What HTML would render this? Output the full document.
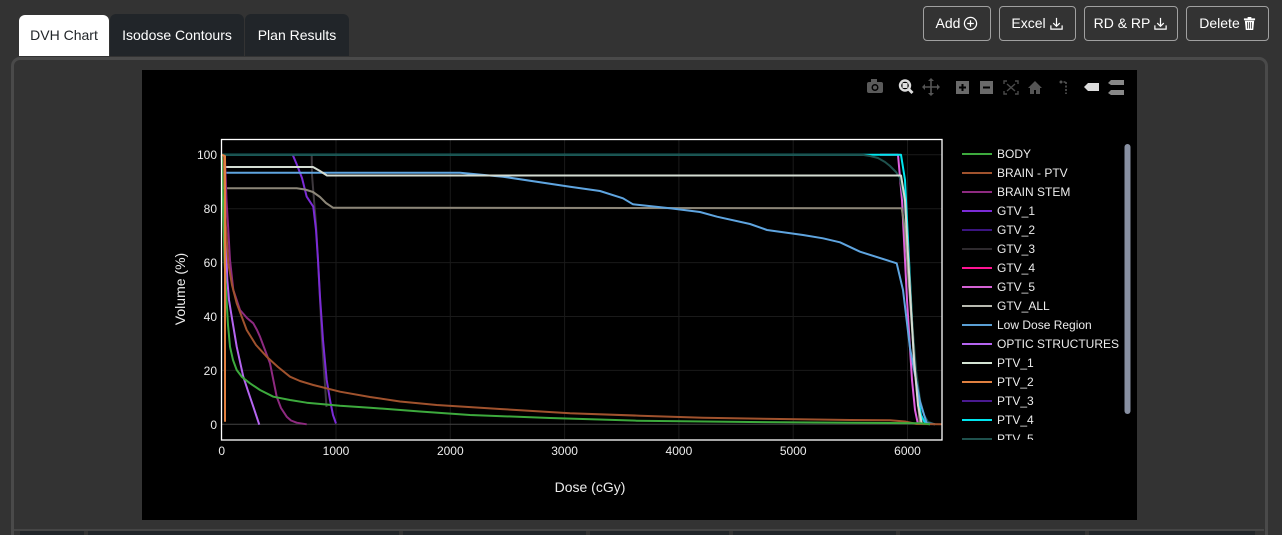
<!DOCTYPE html>
<html><head><meta charset="utf-8">
<style>
html,body{margin:0;padding:0;width:1282px;height:535px;overflow:hidden;background:#333333;font-family:"Liberation Sans",Arial,sans-serif;}
#wrap{position:relative;width:1282px;height:535px;overflow:hidden;background:#333333;}
.tab{position:absolute;height:42px;line-height:42px;font-size:14px;color:#fff;background:#212529;border-radius:6px 6px 0 0;text-align:center;}
.btn{position:absolute;top:6px;height:33px;border:1px solid #a0a0a0;border-radius:4px;color:#fff;font-size:14px;line-height:33px;text-align:center;}
.btn svg{vertical-align:-3px;margin-left:3px;}
</style></head><body>
<div id="wrap">
<div class="tab" style="left:19px;top:15px;width:90px;height:41px;line-height:41px;background:#fff;color:#212529;">DVH Chart</div>
<div class="tab" style="left:110px;top:14px;width:134px;">Isodose Contours</div>
<div class="tab" style="left:245px;top:14px;width:104px;">Plan Results</div>

<div class="btn" style="left:923px;width:66px;">Add<svg width="15" height="15" viewBox="0 0 16 16"><circle cx="8" cy="8" r="6.5" fill="none" stroke="#fff" stroke-width="1.3"/><path d="M8 4.5v7M4.5 8h7" stroke="#fff" stroke-width="1.3"/></svg></div>
<div class="btn" style="left:999px;width:75px;">Excel<svg width="15" height="15" viewBox="0 0 16 16"><path d="M8 2v9M4.5 7.5L8 11l3.5-3.5M2 10v4h12v-4" fill="none" stroke="#fff" stroke-width="1.3"/></svg></div>
<div class="btn" style="left:1084px;width:92px;">RD &amp; RP<svg width="15" height="15" viewBox="0 0 16 16"><path d="M8 2v9M4.5 7.5L8 11l3.5-3.5M2 10v4h12v-4" fill="none" stroke="#fff" stroke-width="1.3"/></svg></div>
<div class="btn" style="left:1186px;width:81px;">Delete<svg width="13" height="15" viewBox="0 0 14 16"><path d="M1 2.5h12v2H1zM5 1h4v1.5H5zM2 5h10l-1 10H3z" fill="#fff"/><path d="M5 6.5v7M7 6.5v7M9 6.5v7" stroke="#333" stroke-width="0.9"/></svg></div>

<div style="position:absolute;left:11px;top:57px;width:1251px;height:475px;border:3px solid #4a4a4a;border-bottom:0;border-radius:9px 9px 0 0;"></div>

<svg style="position:absolute;left:0;top:0" width="1282" height="535" xmlns="http://www.w3.org/2000/svg">
<!-- bottom tabs -->
<rect x="14" y="529" width="1250" height="2" fill="#454545"/>
<g fill="#212529">
<rect x="20" y="531" width="64" height="4"/><rect x="88" y="531" width="311" height="4"/><rect x="403" y="531" width="183" height="4"/><rect x="590" y="531" width="139" height="4"/><rect x="733" y="531" width="163" height="4"/><rect x="900" y="531" width="185" height="4"/><rect x="1089" y="531" width="166" height="4"/>
</g>

<rect x="142" y="70" width="995" height="450" fill="#000"/>

<!-- toolbar -->
<g>
<rect x="867" y="82" width="16" height="11" rx="2" fill="#5a5a5a"/><rect x="871" y="79" width="6" height="4" fill="#5a5a5a"/><circle cx="875" cy="87.5" r="3.5" fill="#000"/><circle cx="875" cy="87.5" r="2" fill="#5a5a5a"/>
<circle cx="905" cy="85.5" r="5" fill="none" stroke="#dcdcdc" stroke-width="2.4"/><rect x="902.5" y="83" width="5" height="5" fill="#dcdcdc"/><path d="M908.5 89l4 4" stroke="#dcdcdc" stroke-width="3"/>
<path d="M931 79v16M923 87h16" stroke="#555" stroke-width="1.6"/><path d="M931 78l-3 3h6zM931 96l-3-3h6zM922 87l3-3v6zM940 87l-3-3v6z" fill="#555"/>
<rect x="956" y="81" width="13" height="13" fill="#6a6a6a"/><path d="M962.5 84v7M959 87.5h7" stroke="#000" stroke-width="2"/>
<rect x="980" y="81" width="13" height="13" fill="#6a6a6a"/><path d="M983 87.5h7" stroke="#000" stroke-width="2"/>
<path d="M1004 84v-3h3M1015 81h3v3M1018 91v3h-3M1007 94h-3v-3M1007 84l8 7M1015 84l-8 7" stroke="#4a4a4a" stroke-width="1.4" fill="none"/>
<path d="M1028 88l7-7 7 7h-2v6h-4v-4h-2v4h-4v-6z" fill="#555"/>
<path d="M1060 82h6M1066 82v12" stroke="#555" stroke-width="1.6" stroke-dasharray="2 1.5"/><circle cx="1061" cy="82" r="1.5" fill="#555"/>
<path d="M1084 87l4-4h11v8h-11z" fill="#dcdcdc"/>
<path d="M1108 83l3-3h13v5h-13zM1108 93l3-3h13v5h-13z" fill="#888"/>
</g>

<!-- grid -->
<g stroke="#1a1a1a" stroke-width="1">
<path d="M336 140V439M450.3 140V439M564.6 140V439M678.9 140V439M793.2 140V439M907.5 140V439"/>
<path d="M222 370.4H942M222 316.5H942M222 262.6H942M222 208.7H942M222 154.8H942"/>
</g>
<path d="M222 424.3H942" stroke="#444" stroke-width="1"/>

<!-- series -->
<g fill="none" stroke-width="2" stroke-linejoin="round">
<polyline stroke="#3d383d" points="311.7,154.8 312,175 314,200 316,224 318,260 320,300 322,340 324,370 326.5,407"/>
<polyline stroke="#7b2bd6" points="292.7,154.8 297,165 302,178 306.7,196.7 313.3,206.7 316,230 318,260 320,296.7 323,340 326.7,380 330,400 333,415 336,423.5"/>
<polyline stroke="#e060e0" points="880,154.8 898,154.8 902,200 907,300 912,380 915,410 918,424.3"/>
<polyline stroke="#00e5ee" points="221.7,154.8 901,154.8 905,180 909,260 913,340 917,390 921,415 925,423 930,424.3"/>
<polyline stroke="#1f514d" points="221.7,154.8 862,154.8 870,156 878,158 885,162 890,166 896,172 900,178 904,200 908,250 912,320 916,370 920,400 924,415 928,422 935,424.3"/>
<polyline stroke="#8c8678" points="222,154.8 224,188.3 296.7,188.3 305,189.5 313,192 320,197 326,203 333,207.7 901.7,208.3 905,230 910,300 915,370 920,424.3"/>
<polyline stroke="#5fa5e0" points="222,154.8 225,172.7 460,172.7 503,176.7 570,186.7 600,191 623,198.3 633,204.3 670,208.3 700,212 717,216.7 750,224 767,230 803,235 823,238.3 840,242.3 860,251.7 896.7,263.3 903,290 910,348 920,401.7 926.7,423.3 935,424.3"/>
<polyline stroke="#d4dcd2" points="222,154.8 224,167 313,167 320,171 327,175.5 901,175.5 905,200 910,290 914,360 918,405 922,424.3"/>
<polyline stroke="#8e2a80" points="221.7,154.8 225,160 226.5,200 228.3,230 230,260 233.3,290 240,310 247,318 253.3,323.3 257,330 260,336.7 265,350 270,363.3 276.7,396.7 281,408 286.7,416.7 291,420.5 296.7,422.7 306.7,424.3"/>
<polyline stroke="#b565f0" points="221.7,154.8 224.5,160 225.5,230 227.3,280 229,300 231.7,316.7 236.7,346.7 243.3,376.7 248,391 253.3,406.7 259.3,424.7"/>
<polyline stroke="#a0522d" points="221.7,154.8 224,160 225.5,220 228.3,263.3 232,285 236.7,303.3 246.7,330 256,345 266.7,356.7 278,367 290,376.7 300,381 313.3,385 340,391.7 370,397 400,401.5 436.7,405 500,409 570,413.3 640,415.7 703,417.7 780,419 850,420 890,420.3 905,421.5 916.7,424 942,424.3"/>
<polyline stroke="#3daa3d" points="221.7,154.8 223,200 224.5,260 226,290 228,325 230,346.7 233,360 236.7,370 242,377 250,383.3 260,390 273.3,396.7 290,400 306.7,402.7 340,405.7 370,407.7 420,411.5 470,415 550,418 636.7,420.7 750,422 850,422.7 920,423.3 930,424.3"/>
<polyline stroke="#e08040" points="222,154.8 225,156 225,421.7"/>
</g>

<rect x="221.5" y="139.5" width="720.5" height="300.5" fill="none" stroke="#fff" stroke-width="1.3"/>

<!-- tick labels -->
<g font-family="Liberation Sans, Arial, sans-serif" font-size="12" fill="#ececec">
<g text-anchor="end">
<text x="217" y="159">100</text><text x="217" y="213">80</text><text x="217" y="267">60</text><text x="217" y="321">40</text><text x="217" y="375">20</text><text x="217" y="429">0</text>
</g>
<g text-anchor="middle">
<text x="221.7" y="455">0</text><text x="336" y="455">1000</text><text x="450.3" y="455">2000</text><text x="564.6" y="455">3000</text><text x="678.9" y="455">4000</text><text x="793.2" y="455">5000</text><text x="907.5" y="455">6000</text>
</g>
</g>
<text x="590" y="492" text-anchor="middle" font-family="Liberation Sans, Arial, sans-serif" font-size="14" fill="#ececec">Dose (cGy)</text>
<text transform="translate(185,289) rotate(-90)" text-anchor="middle" font-family="Liberation Sans, Arial, sans-serif" font-size="14" fill="#ececec">Volume (%)</text>

<!-- legend -->
<defs><clipPath id="lc"><rect x="950" y="140" width="180" height="300"/></clipPath></defs>
<g clip-path="url(#lc)" font-family="Liberation Sans, Arial, sans-serif" font-size="12" fill="#ececec" stroke-width="2">
<line x1="962" y1="154" x2="992" y2="154" stroke="#3daa3d"/><text x="997" y="158">BODY</text>
<line x1="962" y1="173" x2="992" y2="173" stroke="#a0522d"/><text x="997" y="177">BRAIN - PTV</text>
<line x1="962" y1="192" x2="992" y2="192" stroke="#8e2a80"/><text x="997" y="196">BRAIN STEM</text>
<line x1="962" y1="211" x2="992" y2="211" stroke="#7b2bd6"/><text x="997" y="215">GTV_1</text>
<line x1="962" y1="230" x2="992" y2="230" stroke="#3b1580"/><text x="997" y="234">GTV_2</text>
<line x1="962" y1="249" x2="992" y2="249" stroke="#2e2a2e"/><text x="997" y="253">GTV_3</text>
<line x1="962" y1="268" x2="992" y2="268" stroke="#ff1493"/><text x="997" y="272">GTV_4</text>
<line x1="962" y1="287" x2="992" y2="287" stroke="#d462d4"/><text x="997" y="291">GTV_5</text>
<line x1="962" y1="306" x2="992" y2="306" stroke="#b8bab0"/><text x="997" y="310">GTV_ALL</text>
<line x1="962" y1="325" x2="992" y2="325" stroke="#5a9fd4"/><text x="997" y="329">Low Dose Region</text>
<line x1="962" y1="344" x2="992" y2="344" stroke="#b565f0"/><text x="997" y="348">OPTIC STRUCTURES</text>
<line x1="962" y1="363" x2="992" y2="363" stroke="#d4e4d4"/><text x="997" y="367">PTV_1</text>
<line x1="962" y1="382" x2="992" y2="382" stroke="#e08040"/><text x="997" y="386">PTV_2</text>
<line x1="962" y1="401" x2="992" y2="401" stroke="#4a1a90"/><text x="997" y="405">PTV_3</text>
<line x1="962" y1="420" x2="992" y2="420" stroke="#00e5ee"/><text x="997" y="424">PTV_4</text>
<line x1="962" y1="439" x2="992" y2="439" stroke="#1f514d"/><text x="997" y="443">PTV_5</text>
</g>
<rect x="1124.5" y="144" width="6" height="270" rx="3" fill="#8890a2"/>
</svg>
</div>
</body></html>
